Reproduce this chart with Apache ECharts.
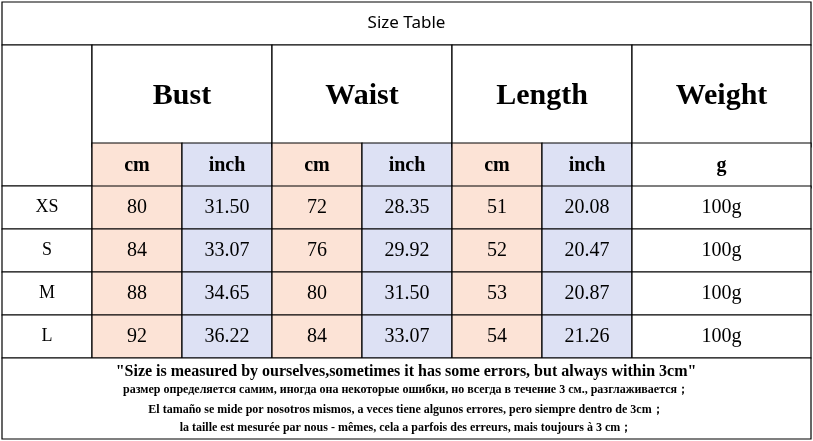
<!DOCTYPE html>
<html><head><meta charset="utf-8">
<script src="https://cdn.jsdelivr.net/npm/echarts@6/dist/echarts.min.js"></script>
<style>html,body{margin:0;padding:0;background:#fff}#c{width:813px;height:441px}</style>
</head><body><div id="c"></div>
<script>
const title = "Size Table";
const sizes = ["XS","S","M","L"];
const measures = ["Bust","Waist","Length","Weight"];
const bustCm = ["80","84","88","92"];
const bustIn = ["31.50","33.07","34.65","36.22"];
const waistCm = ["72","76","80","84"];
const waistIn = ["28.35","29.92","31.50","33.07"];
const lengthCm = ["51","52","53","54"];
const lengthIn = ["20.08","20.47","20.87","21.26"];
const weight = ["100g","100g","100g","100g"];
const notes = [
 "\"Size is measured by ourselves,sometimes it has some errors, but always within 3cm\"",
 "размер определяется самим, иногда она некоторые ошибки, но всегда в течение 3 см., разглаживается；",
 "El tamaño se mide por nosotros mismos, a veces tiene algunos errores, pero siempre dentro de 3cm；",
 "la taille est mesurée par nous - mêmes, cela a parfois des erreurs, mais toujours à 3 cm；"
];

// layout
const X = [2,92,182,272,362,452,542,632,811];
const Y = [2,45,143,186,229,272,315,358,439];
const NOTE_Y = [372,390,410,428];
const PEACH = "#fce3d6", LAV = "#dde1f4";
const cells = [];
const serif = "Liberation Serif";
cells.push([X[0],Y[0],X[8],Y[1],title,"#fff",17,false,"Noto Sans"]);
cells.push([X[0],Y[1],X[1],Y[3],"","#fff",14,false,serif]);
for (let i=0;i<3;i++){
  cells.push([X[1+2*i],Y[1],X[3+2*i],Y[2]+4,measures[i],"#fff",30,true,serif]);
  cells.push([X[1+2*i],Y[2],X[2+2*i],Y[3]+2,"cm",PEACH,20,true,serif]);
  cells.push([X[2+2*i],Y[2],X[3+2*i],Y[3]+2,"inch",LAV,20,true,serif]);
}
cells.push([X[7],Y[1],X[8],Y[2]+4,measures[3],"#fff",30,true,serif]);
cells.push([X[7],Y[2],X[8],Y[3]+2,"g","#fff",20,true,serif]);
const cols = [bustCm,bustIn,waistCm,waistIn,lengthCm,lengthIn];
sizes.forEach((s,r)=>{
  const y0=Y[3+r], y1=Y[4+r];
  cells.push([X[0],y0,X[1],y1,s,"#fff",18,false,serif]);
  cols.forEach((c,k)=>cells.push([X[1+k],y0,X[2+k],y1,c[r],k%2?LAV:PEACH,20,false,serif]));
  cells.push([X[7],y0,X[8],y1,weight[r],"#fff",20,false,serif]);
});
cells.push([X[0],Y[7],X[8],Y[8],"","#fff",12,false,serif]);

const noteData = notes.map((t,i)=>[406, NOTE_Y[i], t, i===0?16:12]);

const chart = echarts.init(document.getElementById('c'));
chart.setOption({
  animation:false,
  grid:{left:0,right:0,top:0,bottom:0},
  xAxis:{type:'value',min:0,max:813,show:false},
  yAxis:{type:'value',min:0,max:441,inverse:true,show:false},
  series:[{
    type:'custom',
    data:cells,
    renderItem:(p,api)=>{
      const d=cells[p.dataIndex];
      const a=api.coord([d[0],d[1]]), b=api.coord([d[2],d[3]]);
      const yb=api.coord([d[2],Math.min(d[3],Y[8])]);
      return {type:'group',children:[
        {type:'rect',shape:{x:a[0],y:a[1],width:b[0]-a[0],height:yb[1]-a[1]},
         style:{fill:d[5],stroke:'#000',lineWidth:1.2}},
        {type:'text',style:{text:d[4],x:(a[0]+b[0])/2,y:(a[1]+b[1])/2,align:'center',verticalAlign:'middle',
         font:(d[7]?'bold ':'')+d[6]+'px "'+d[8]+'"',fill:'#000'}}
      ]};
    }
  },{
    type:'custom',
    data:noteData,
    renderItem:(p,api)=>{
      const d=noteData[p.dataIndex];
      const a=api.coord([d[0],d[1]]);
      return {type:'text',style:{text:d[2],x:a[0],y:a[1],align:'center',verticalAlign:'middle',
        font:'bold '+d[3]+'px "Liberation Serif"',fill:'#000'}};
    }
  }]
});
</script></body></html>
